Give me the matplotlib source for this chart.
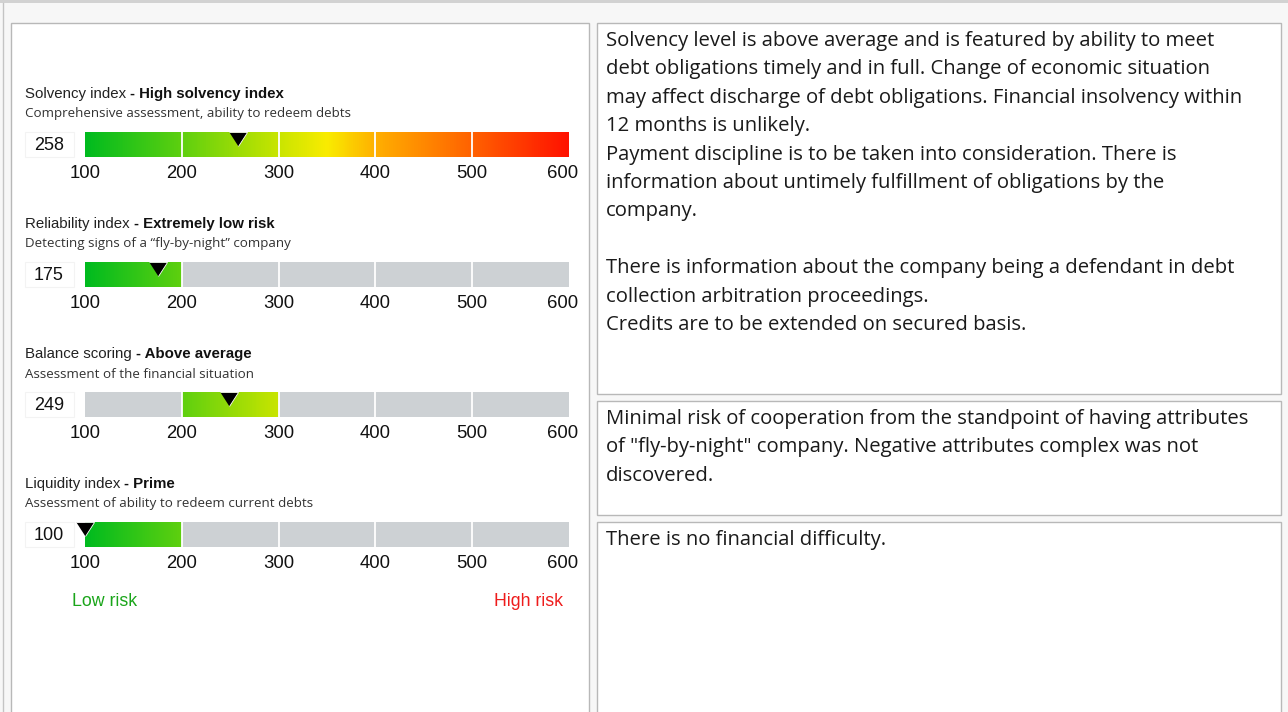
"""Risk scoring panel: 4 gauges (left) and text comments (right)."""
import matplotlib
matplotlib.use("Agg")
import matplotlib.pyplot as plt
import numpy as np
from matplotlib import patches
from matplotlib.colors import LinearSegmentedColormap

W, H = 1288, 712
DPI = 100

# gauge data
index_names = ["Solvency index", "Reliability index", "Balance scoring", "Liquidity index"]
index_grades = ["High solvency index", "Extremely low risk", "Above average", "Prime"]
index_notes = [
    "Comprehensive assessment, ability to redeem debts",
    "Detecting signs of a \u201cfly-by-night\u201d company",
    "Assessment of the financial situation",
    "Assessment of ability to redeem current debts",
]
scores = [258, 175, 249, 100]
# None -> whole scale coloured, otherwise only the (lo, hi) segment
active_ranges = [None, (100, 200), (200, 300), (100, 200)]
scale_ticks = [100, 200, 300, 400, 500, 600]

# colour ramp of the scale
grad_pos = [100, 200, 300, 350, 400, 500, 600]
grad_col = ["#00bb1f", "#5fd00f", "#c9e500", "#f9ec00", "#ffb000", "#ff6200", "#ff1200"]

# comment boxes on the right
comments = [
    [
        "Solvency level is above average and is featured by ability to meet",
        "debt obligations timely and in full. Change of economic situation",
        "may affect discharge of debt obligations. Financial insolvency within",
        "12 months is unlikely.",
        "Payment discipline is to be taken into consideration. There is",
        "information about untimely fulfillment of obligations by the",
        "company.",
        "",
        "There is information about the company being a defendant in debt",
        "collection arbitration proceedings.",
        "Credits are to be extended on secured basis.",
    ],
    [
        "Minimal risk of cooperation from the standpoint of having attributes",
        "of \"fly-by-night\" company. Negative attributes complex was not",
        "discovered.",
    ],
    ["There is no financial difficulty."],
]
comment_boxes = [(22, 393), (400, 514), (521, 730)]

GRAY = "#cdd1d4"
SANS = ["Liberation Sans", "DejaVu Sans"]
UI = ["Open Sans", "DejaVu Sans"]

cmap = LinearSegmentedColormap.from_list(
    "risk", [((p - 100) / 500, c) for p, c in zip(grad_pos, grad_col)])


def px_axes(fig, x0, y0, x1, y1):
    """axes from pixel box (top-left origin)."""
    return fig.add_axes([x0 / W, 1 - y1 / H, (x1 - x0) / W, (y1 - y0) / H])


fig = plt.figure(figsize=(W / DPI, H / DPI), dpi=DPI)
fig.patch.set_facecolor("#f7f7f7")

bg = px_axes(fig, 0, 0, W, H)
bg.set_xlim(0, W); bg.set_ylim(H, 0); bg.axis("off")
bg.add_patch(patches.Rectangle((0, 0), W, 3, color="#d2d2d2", lw=0))
bg.plot([3.5, 3.5], [3, H], color="#c4c4c4", lw=1)

# left panel
bg.add_patch(patches.Rectangle((11.5, 22.5), 578, 720, fc="white", ec="#b8b8b8", lw=1))
# right panels
for (top, bot), lines in zip(comment_boxes, comments):
    bg.add_patch(patches.Rectangle((597.5, top + 0.5), 684, bot - top, fc="white",
                                   ec="#b8b8b8", lw=1))
    for i, ln in enumerate(lines):
        bg.text(606, top + 19 + i * 28.4, ln, fontsize=14.55, family=UI,
                color="#1a1a1a", va="center", ha="left")

renderer = fig.canvas.get_renderer()
row_gap = 130
for i, (name, grade, note, score, act) in enumerate(
        zip(index_names, index_grades, index_notes, scores, active_ranges)):
    y_title = 94 + i * row_gap
    t = bg.text(25, y_title, name + " ", fontsize=10.8, family=SANS, color="#222222",
                va="center", ha="left")
    bb = t.get_window_extent(renderer)
    bg.text(25 + bb.width, y_title, "- " + grade, fontsize=10.8, family=SANS,
            color="#111111", fontweight="bold", va="center", ha="left")
    bg.text(25, y_title + 20, note, fontsize=9.6, family=UI, color="#333333",
            va="center", ha="left")

    bar_top = 132 + i * row_gap
    # value label
    bg.add_patch(patches.Rectangle((25, bar_top), 49, 25, fc="white", ec="#f3f3f3", lw=0.8))
    bg.text(49, bar_top + 14, str(score), fontsize=13, family=SANS, color="#111111",
            va="center", ha="center")

    ax = px_axes(fig, 85, bar_top, 569, bar_top + 25)
    ax.set_xlim(scale_ticks[0], scale_ticks[-1]); ax.set_ylim(0, 1)
    ax.axis("off")
    if act is None:
        grad = np.linspace(0, 1, 500).reshape(1, -1)
        ax.imshow(grad, cmap=cmap, aspect="auto", extent=(100, 600, 0, 1), zorder=2)
    else:
        ax.barh(0.5, scale_ticks[-1] - scale_ticks[0], left=scale_ticks[0], height=1,
                color=GRAY, zorder=1)
        lo, hi = act
        seg = np.linspace((lo - 100) / 500, (hi - 100) / 500, 100).reshape(1, -1)
        ax.imshow(seg, cmap=cmap, vmin=0, vmax=1, aspect="auto", extent=(lo, hi, 0, 1),
                  zorder=2)
    ax.set_xlim(scale_ticks[0], scale_ticks[-1]); ax.set_ylim(0, 1)
    for b in scale_ticks[1:-1]:
        ax.axvline(b, color="white", lw=1.3, zorder=3)
    # pointer
    ax.plot(score, 0.72, marker=[(-9, 7), (9, 7), (0, -7)], ms=13, color="black",
            mec="white", mew=0.6, clip_on=False, zorder=5)

    # scale labels
    for k, v in enumerate(scale_ticks):
        off = -6 if k == len(scale_ticks) - 1 else 0
        ax.annotate(str(v), (v, 0), xytext=(off * 0.72, -12), textcoords="offset points",
                    fontsize=13.3, family=SANS, color="#111111", ha="center", va="center",
                    annotation_clip=False)

bg.text(105, 601, "Low risk", fontsize=12.8, family=SANS, color="#1aa51a",
        ha="center", va="center")
bg.text(529, 601, "High risk", fontsize=12.8, family=SANS, color="#ee1c1c",
        ha="center", va="center")

fig.savefig("out.png", dpi=DPI)
